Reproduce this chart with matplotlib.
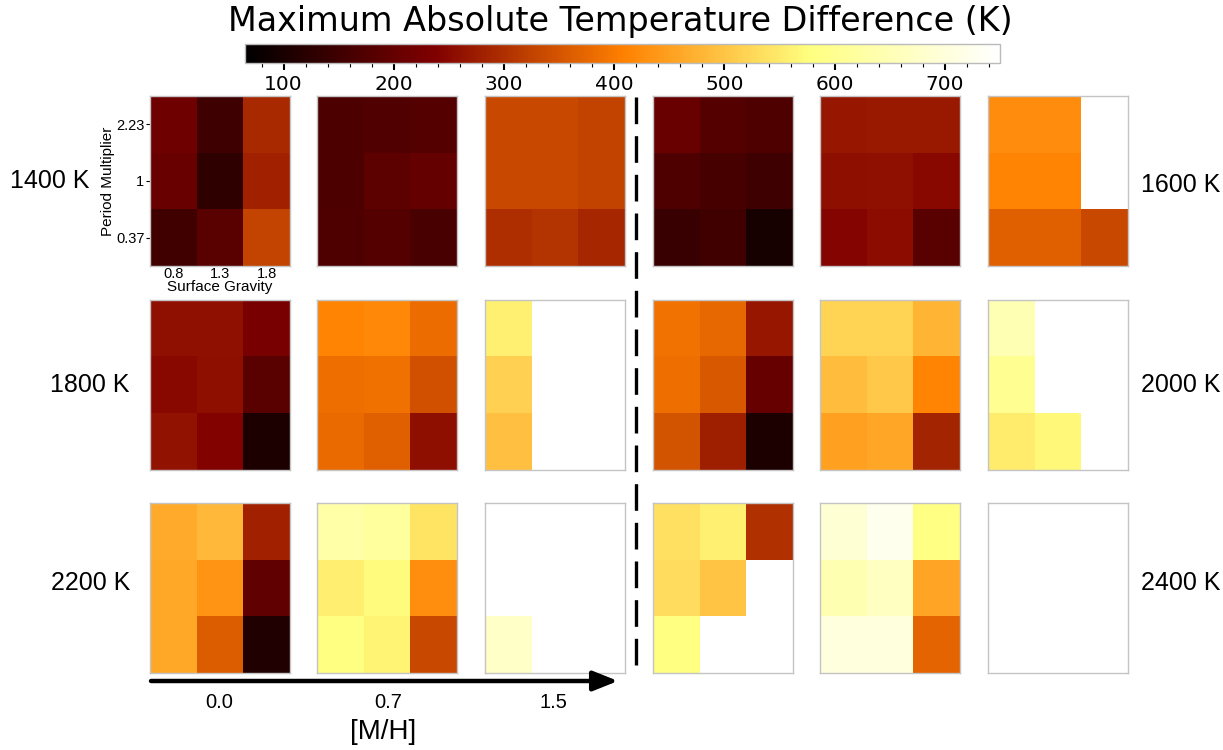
import numpy as np
import matplotlib
matplotlib.use("Agg")
import matplotlib.pyplot as plt
from matplotlib.colors import Normalize
from matplotlib.lines import Line2D
from matplotlib.patches import FancyArrowPatch
from matplotlib.ticker import MultipleLocator

nan = np.nan

# grid axes: rows = period multiplier (top to bottom), cols = surface gravity
periods = ["2.23", "1", "0.37"]
gravities = ["0.8", "1.3", "1.8"]
metallicities = ["0.0", "0.7", "1.5"]

left_temps = ["1400 K", "1800 K", "2200 K"]
right_temps = ["1600 K", "2000 K", "2400 K"]

# max |dT| in K, one 3x3 block per [M/H] = 0.0, 0.7, 1.5
dT_1400 = [[[213, 148, 291], [207, 127, 280], [154, 186, 328]],
           [[167, 175, 180], [167, 189, 199], [172, 180, 164]],
           [[334, 334, 326], [334, 334, 326], [299, 307, 288]]]
dT_1600 = [[[207, 180, 170], [172, 159, 148], [140, 154, 95]],
           [[266, 269, 269], [256, 258, 248], [242, 253, 186]],
           [[425, 425, nan], [414, 414, nan], [366, 366, 334]]]
dT_1800 = [[[258, 258, 226], [248, 256, 186], [261, 240, 103]],
           [[414, 420, 382], [385, 387, 344], [379, 366, 256]],
           [[558, nan, nan], [516, nan, nan], [494, nan, nan]]]
dT_2000 = [[[390, 377, 266], [385, 355, 202], [350, 277, 105]],
           [[521, 521, 478], [489, 505, 414], [451, 459, 285]],
           [[649, nan, nan], [601, nan, nan], [553, 569, nan]]]
dT_2200 = [[[465, 483, 280], [462, 435, 197], [462, 361, 108]],
           [[633, 617, 542], [556, 575, 427], [579, 564, 334]],
           [[nan, nan, nan], [nan, nan, nan], [676, nan, nan]]]
dT_2400 = [[[537, 558, 301], [531, 499, nan], [579, nan, nan]],
           [[692, 725, 585], [644, 665, 457], [703, 703, 371]],
           [[nan, nan, nan], [nan, nan, nan], [nan, nan, nan]]]

cbar_ticks = [100, 200, 300, 400, 500, 600, 700]
vmin, vmax = 65, 750

W, H = 1223, 750
fig = plt.figure(figsize=(W / 100, H / 100), dpi=100)


def px_axes(x, y, w, h):
    # place an axes using pixel coords measured from the top-left corner
    return fig.add_axes([x / W, 1 - (y + h) / H, w / W, h / H])


cmap = plt.get_cmap("afmhot").copy()
cmap.set_bad("white")
norm = Normalize(vmin, vmax)

col_x = [150, 317, 485, 653, 820, 988]
row_y = [96, 300, 503]
panel_w, panel_h = 140, 170

rows = [(dT_1400, dT_1600), (dT_1800, dT_2000), (dT_2200, dT_2400)]
label_font = "Liberation Sans"

im = None
for r, (left, right) in enumerate(rows):
    for side, block in enumerate((left, right)):
        for m in range(3):
            ax = px_axes(col_x[side * 3 + m], row_y[r], panel_w, panel_h)
            im = ax.imshow(np.array(block[m], dtype=float), cmap=cmap, norm=norm,
                           aspect="auto", interpolation="nearest")
            ax.set_xticks([])
            ax.set_yticks([])
            for s in ax.spines.values():
                s.set_color("#c4c4c4")
                s.set_linewidth(1)
            if r == 0 and side == 0 and m == 0:
                ax.set_xticks(range(3))
                ax.set_xticklabels(gravities, fontsize=10.5, family=label_font)
                ax.set_yticks(range(3))
                ax.set_yticklabels(periods, fontsize=10.5, family=label_font)
                ax.tick_params(axis="x", length=0, pad=1)
                ax.tick_params(axis="y", length=3, width=0.8, pad=1)
                ax.set_xlabel("Surface Gravity", fontsize=11, family=label_font, labelpad=-1)
                ax.set_ylabel("Period Multiplier", fontsize=11, family=label_font, labelpad=1)

# temperature labels on both sides
left_pos = [(89, 181), (130, 385), (130, 583)]
for txt, (x, y) in zip(left_temps, left_pos):
    fig.text(x / W, 1 - y / H, txt, ha="right", va="center", fontsize=18, family=label_font)
right_pos = [185, 385, 583]
for txt, y in zip(right_temps, right_pos):
    fig.text(1141 / W, 1 - y / H, txt, ha="left", va="center", fontsize=18, family=label_font)

# colorbar on top
cax = px_axes(245, 44, 755, 19)
cb = fig.colorbar(im, cax=cax, orientation="horizontal")
cb.set_ticks(cbar_ticks)
cb.ax.xaxis.set_minor_locator(MultipleLocator(20))
cb.ax.tick_params(which="major", labelsize=14.5, length=5, width=1.5, pad=4)
cb.ax.tick_params(which="minor", length=3, width=0.8)
cb.outline.set_edgecolor("#bbbbbb")
cb.outline.set_linewidth(1)
fig.text(620 / W, 1 - 22 / H, "Maximum Absolute Temperature Difference (K)",
         ha="center", va="center", fontsize=24)

# dashed separator between the two temperature groups
fig.add_artist(Line2D([636 / W, 636 / W], [1 - 97 / H, 1 - 670 / H],
                      color="black", lw=2.4, linestyle=(0, (8, 3.6))))

# [M/H] arrow and labels
fig.add_artist(FancyArrowPatch(
    (151 / W, 1 - 681 / H), (618 / W, 1 - 681 / H), transform=fig.transFigure,
    arrowstyle="-|>,head_length=0.75,head_width=0.3", mutation_scale=20,
    lw=3.2, color="black", shrinkA=0, shrinkB=0))
for txt, x in zip(metallicities, [219, 388, 553]):
    fig.text(x / W, 1 - 703 / H, txt, ha="center", va="center", fontsize=14.5, family=label_font)
fig.text(383 / W, 1 - 732 / H, "[M/H]", ha="center", va="center", fontsize=20, family=label_font)

fig.savefig("out.png", dpi=100)
